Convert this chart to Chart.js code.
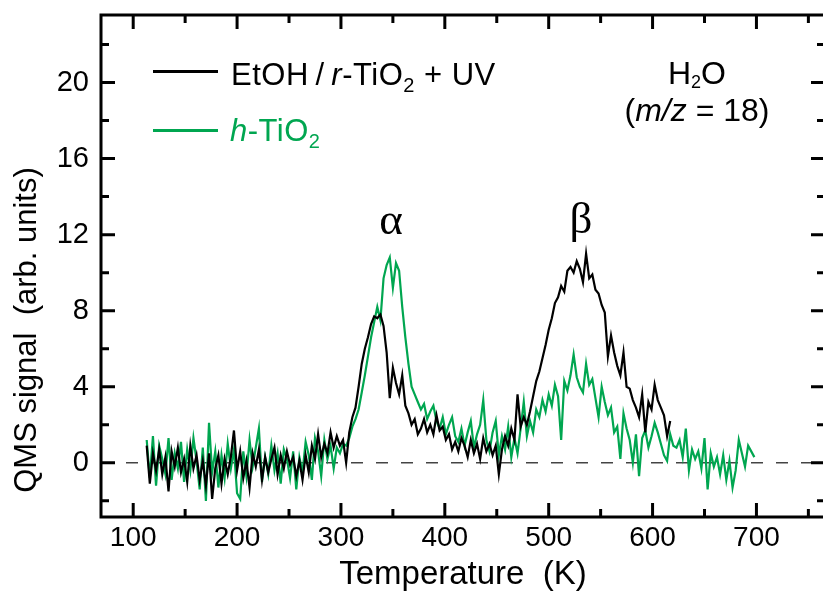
<!DOCTYPE html>
<html>
<head>
<meta charset="utf-8">
<title>QMS H2O signal</title>
<script src="https://cdn.jsdelivr.net/npm/chart.js@4.4.1/dist/chart.umd.min.js"></script>
<style>
  html, body { margin: 0; padding: 0; background: #fff; overflow: hidden; }
  #wrap { position: relative; width: 823px; height: 595px; overflow: hidden; }
  #wrap canvas { position: absolute; left: 0; top: 0; }
  .lbl { position: absolute; font-family: "Liberation Sans", Arial, sans-serif; font-size: 31px; line-height: 31px; letter-spacing: 0.5px; white-space: nowrap; color: #000; }
  .lbl sub { font-size: 20px; line-height: 0; vertical-align: -7px; }
  .lbl sub.small { font-size: 18px; vertical-align: -4px; }
  .note { font-size: 32px; line-height: 32px; letter-spacing: 0; transform: translateX(-50%); }
  .key { position: absolute; height: 3px; }
  .greek { position: absolute; font-family: "Liberation Serif", "Times New Roman", serif; font-size: 45px; line-height: 45px; transform: translateX(-50%); }
</style>
</head>
<body>
<div id="wrap">
  <canvas id="chart" width="830" height="595"></canvas>
  <div class="key" style="left:153px; top:70px; width:65px; background:#000"></div>
  <div class="lbl" style="left:231px; top:59px">EtOH&#8201;/&#8201;<i>r</i>-TiO<sub>2</sub> + UV</div>
  <div class="key" style="left:153px; top:129px; width:65px; background:#00a650"></div>
  <div class="lbl" style="left:230px; top:115px; color:#00a650"><i>h</i>-TiO<sub>2</sub></div>
  <div class="lbl note" style="left:697px; top:57px">H<sub class="small">2</sub>O</div>
  <div class="lbl note" style="left:697px; top:94px">(<i>m/z</i> = 18)</div>
  <div class="greek" style="left:391px; top:197px">α</div>
  <div class="greek" style="left:581px; top:196px">β</div>
</div>
<script>
// temperature grid of both traces (K): first point and spacing
const tempStart = 113;
const tempStep = 3;

// EtOH / r-TiO2 + UV, 113 ... 617 K
const etohValues = [
  0.9, -1.1, 0.5, -0.4, 0.7, -0.6, 0.3, -1.5, 0.6, -0.2,
  0.8, -0.5, 0.2, -1.0, 0.9, -0.3, 0.4, -0.9, 0.1, -1.2,
  0.5, -1.9, -0.3, 0.4, -1.1, 0.2, -0.6, 0.3, 1.7, -0.4,
  0.6, -0.8, 0.1, -1.3, 0.5, -0.2, 0.7, -0.9, 0.3, -0.5,
  0.2, 0.8, -0.6, 0.4, -0.3, 0.6, -0.1, 0.3, -0.7, 0.1,
  -0.9, 0.4, -0.5, 0.9, 0.2, 1.5, 0.3, 1.0, 0.5, 1.6,
  0.8, 1.4, 0.9, 1.2, 0.0, 1.6, 2.4, 2.9, 4.0, 5.2,
  6.0, 6.6, 7.3, 7.7, 7.6, 7.8, 7.2, 5.8, 3.4, 5.0,
  4.2, 3.6, 4.6, 3.0, 2.6, 2.0, 2.3, 1.5, 1.8, 2.3,
  1.6, 2.0, 1.5, 2.5, 1.7, 1.9, 1.2, 1.5, 0.7, 1.1,
  0.6, 1.3, 0.9, 0.3, 1.2, 0.5, 1.0, 0.2, 1.3, 0.6,
  1.0, 0.4, 0.9, -0.6, 0.7, 1.4, 0.9, 1.8, 1.2, 3.6,
  1.9, 2.4, 2.0, 2.7, 3.5, 4.3, 4.8, 5.5, 6.2, 7.0,
  7.6, 8.4, 8.7, 9.3, 9.0, 10.1, 10.3, 10.0, 10.6, 10.2,
  9.5, 11.0, 9.7, 9.9, 9.1, 8.9, 8.3, 7.9, 5.6, 6.7,
  5.8, 5.1, 4.6, 5.8, 4.0, 3.9, 3.3, 2.9, 2.4, 3.6,
  1.6, 3.2, 2.8, 4.1, 3.3, 2.9, 2.5, 1.4, 2.2
];

// h-TiO2, 113 ... 698 K
const hTiO2Values = [
  1.2, -0.8, 1.4, -1.2, 0.9, 0.2, -0.6, 1.3, -0.9, 0.5,
  -0.3, 1.1, -1.0, 0.7, -0.4, 1.3, 0.1, -1.4, 0.8, -2.0,
  2.1, -0.5, 0.6, -1.3, 0.4, -0.8, 1.0, -0.3, 0.7, -1.6,
  -1.9, 0.6, -0.7, 1.2, -0.2, 0.8, 1.8, -1.0, 0.3, -0.6,
  0.9, -0.4, 0.5, -1.1, 0.7, 0.2, -0.8, 0.6, -1.4, 0.3,
  -0.5, 1.1, 0.4, -0.9, 1.3, 0.6, -0.7, 1.2, 0.2, 0.9,
  -0.3, 0.8, 0.5, 1.0, 0.9, 1.3, 1.9, 2.3, 2.8, 3.7,
  4.6, 5.6, 6.6, 7.4, 8.2, 7.5, 9.7, 10.4, 10.8, 9.2,
  10.5, 10.1, 8.2, 6.6, 5.2, 4.0, 3.6, 3.2, 2.8, 3.1,
  2.3, 2.7, 3.0, 2.2, 1.8, 2.4, 1.5, 2.0, 2.4, 1.4,
  1.1, 1.8, 0.9, 1.6, 2.2, 0.8, 1.5, 2.0, 3.3, 1.2,
  0.6, 1.6, 2.2, 0.4, 1.4, 0.7, 1.9, 0.3, 1.3, 0.5,
  1.8, 3.2, 1.4, 2.2, 1.6, 2.8, 2.4, 3.3, 2.7, 3.6,
  3.0, 4.1, 3.5, 1.2, 4.3, 3.8, 4.6, 5.7, 4.5, 4.0,
  3.7, 5.2, 4.1, 4.4, 3.4, 2.4, 4.0, 3.2, 2.5, 2.9,
  1.6, 1.9, 0.2, 2.6, 1.8, 1.2, 0.0, 1.5, -0.7, 1.3,
  1.7, 0.8, 1.4, 2.1, 1.6, 1.0, 0.4, 0.1, 1.5, 0.9,
  0.8, 1.2, 0.3, 1.8, -0.4, 0.7, 0.2, 0.6, -0.3, 1.3,
  -1.4, 0.5, -0.2, 0.3, -0.6, 0.4, -0.9, 0.1, -1.3, -0.4,
  1.2, 0.5, -0.2, 0.9, 0.6, 0.3
];

const xTicks = [100, 200, 300, 400, 500, 600, 700];
const xMinorTicks = [150, 250, 350, 450, 550, 650, 750];
const yTicks = [0, 4, 8, 12, 16, 20];
const yMinorTicks = [-2, 2, 6, 10, 14, 18, 22];

const green = "#00a650";
const sans = "'Liberation Sans', Arial, sans-serif";

function toPoints(values) {
  return values.map((v, i) => ({ x: tempStart + tempStep * i, y: v }));
}

// frame, inward ticks, dashed zero line and the y title
const frameAndTicks = {
  id: "frameAndTicks",
  beforeDatasetsDraw(chart) {
    const { ctx, chartArea: a } = chart;
    const y0 = chart.scales.y.getPixelForValue(0);
    ctx.save();
    ctx.strokeStyle = "#444";
    ctx.lineWidth = 1.5;
    ctx.setLineDash([12, 13]);
    ctx.beginPath();
    ctx.moveTo(a.left, y0);
    ctx.lineTo(a.right, y0);
    ctx.stroke();
    ctx.restore();
  },
  afterDraw(chart) {
    const { ctx, chartArea: a } = chart;
    const xs = chart.scales.x;
    const ys = chart.scales.y;
    ctx.save();
    ctx.strokeStyle = "#000";
    ctx.lineWidth = 3;
    ctx.strokeRect(a.left, a.top, a.right - a.left, a.bottom - a.top);

    const tick = (vals, len) => {
      ctx.beginPath();
      vals.forEach((v) => {
        const px = xs.getPixelForValue(v);
        ctx.moveTo(px, a.bottom);
        ctx.lineTo(px, a.bottom - len);
        ctx.moveTo(px, a.top);
        ctx.lineTo(px, a.top + len);
      });
      ctx.stroke();
    };
    const ytick = (vals, len) => {
      ctx.beginPath();
      vals.forEach((v) => {
        const py = ys.getPixelForValue(v);
        ctx.moveTo(a.left, py);
        ctx.lineTo(a.left + len, py);
        ctx.moveTo(a.right, py);
        ctx.lineTo(a.right - len, py);
      });
      ctx.stroke();
    };
    tick(xTicks, 14);
    tick(xMinorTicks, 8);
    ytick(yTicks, 14);
    ytick(yMinorTicks, 8);

    // y title sits a bit below the middle of the axis in the original
    ctx.translate(27, 330);
    ctx.rotate(-Math.PI / 2);
    ctx.fillStyle = "#000";
    ctx.font = "31px " + sans;
    ctx.textAlign = "center";
    ctx.textBaseline = "middle";
    ctx.fillText("QMS signal  (arb. units)", 0, 0);
    ctx.restore();
  },
};

document.addEventListener("DOMContentLoaded", () => {
  const ctx = document.getElementById("chart").getContext("2d");

  new Chart(ctx, {
    type: "line",
    data: {
      datasets: [
        {
          label: "EtOH / r-TiO2 + UV",
          data: toPoints(etohValues),
          borderColor: "#000",
          borderWidth: 2.2,
          pointRadius: 0,
          tension: 0,
          order: 0,
        },
        {
          label: "h-TiO2",
          data: toPoints(hTiO2Values),
          borderColor: green,
          borderWidth: 2.2,
          pointRadius: 0,
          tension: 0,
          order: 1,
        },
      ],
    },
    options: {
      responsive: false,
      animation: false,
      layout: { padding: { left: 0, right: 5, top: 15, bottom: 0 } },
      plugins: { legend: { display: false }, tooltip: { enabled: false } },
      scales: {
        x: {
          type: "linear",
          min: 69,
          max: 766,
          afterBuildTicks: (s) => { s.ticks = xTicks.map((v) => ({ value: v })); },
          afterFit: (s) => { s.height = 78; s.paddingLeft = 0; s.paddingRight = 0; },
          grid: { display: false, drawTicks: false },
          border: { display: false },
          ticks: { padding: 4, color: "#000", maxRotation: 0, autoSkip: false, font: { family: sans, size: 28 } },
          title: {
            display: true,
            text: "Temperature  (K)",
            color: "#000",
            font: { family: sans, size: 33 },
            padding: { top: 0, bottom: 0 },
          },
        },
        y: {
          min: -2.85,
          max: 23.55,
          afterBuildTicks: (s) => { s.ticks = yTicks.map((v) => ({ value: v })); },
          afterFit: (s) => { s.width = 101; s.paddingTop = 0; s.paddingBottom = 0; },
          grid: { display: false, drawTicks: false },
          border: { display: false },
          ticks: { padding: 12, color: "#000", autoSkip: false, font: { family: sans, size: 29 } },
        },
      },
    },
    plugins: [frameAndTicks],
  });
});
</script>
</body>
</html>
